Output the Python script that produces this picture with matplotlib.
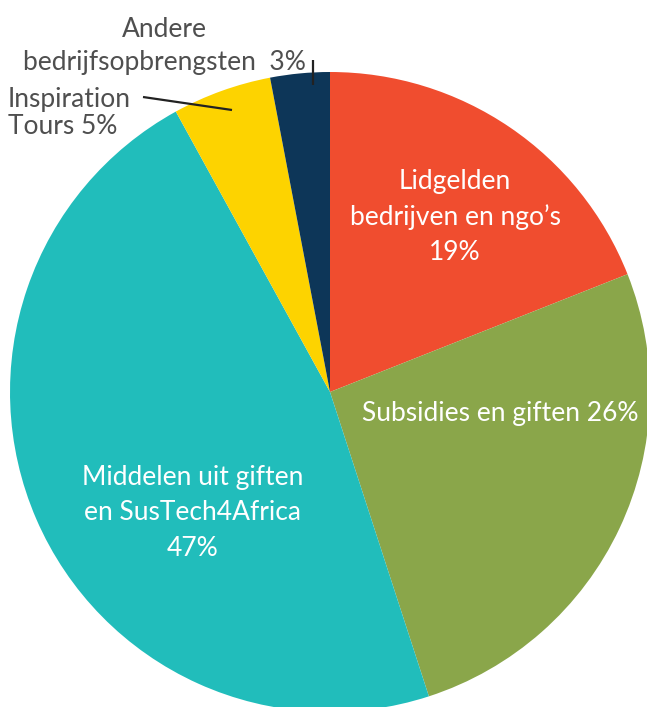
import matplotlib
matplotlib.use("Agg")
import matplotlib.pyplot as plt

categories = ["Lidgelden\nbedrijven en ngo’s", "Subsidies en giften", "Middelen uit giften\nen SusTech4Africa",
              "Inspiration\nTours", "Andere\nbedrijfsopbrengsten "]
values = [19, 26, 47, 5, 3]
colors = ["#F04D2F", "#8AA64A", "#21BDBB", "#FDD300", "#0D3658"]

plt.rcParams['font.family'] = ['Lato', 'DejaVu Sans']

W, H = 647, 707
fig = plt.figure(figsize=(W / 100, H / 100), dpi=100)
ax = fig.add_axes([0, 0, 1, 1])

cx, cy, r = 330, H - 392, 320
ax.pie(values, colors=colors, startangle=90, counterclock=False,
       center=(cx, cy), radius=r, frame=True,
       wedgeprops=dict(linewidth=0))
ax.set_xlim(0, W)
ax.set_ylim(0, H)
ax.set_aspect('equal')
ax.axis('off')

def Y(y):
    return H - y

fs = 19
txt = "#4F4F4F"
# inside labels
ax.text(455, Y(217), f"{categories[0]}\n{values[0]}%", color="white", fontsize=fs,
        ha="center", va="center", linespacing=1.5)
ax.text(500, Y(414), f"{categories[1]} {values[1]}%", color="white", fontsize=fs,
        ha="center", va="center")
ax.text(193, Y(513), f"{categories[2]}\n{values[2]}%", color="white", fontsize=fs,
        ha="center", va="center", linespacing=1.5)

# outside labels
ax.text(8, Y(113), f"{categories[3]} {values[3]}%", color=txt, fontsize=fs,
        ha="left", va="center", linespacing=1.14)
ax.text(164, Y(46), "Andere\nbedrijfsopbrengsten  " + f"{values[4]}%", color=txt, fontsize=fs,
        ha="center", va="center", linespacing=1.41)

# leader lines
ax.plot([143, 232], [Y(97), Y(110)], color="#222222", lw=1.6, solid_capstyle='butt')
ax.plot([313, 313], [Y(60), Y(85)], color="#222222", lw=1.6, solid_capstyle='butt')

fig.savefig("out.png", dpi=100)
